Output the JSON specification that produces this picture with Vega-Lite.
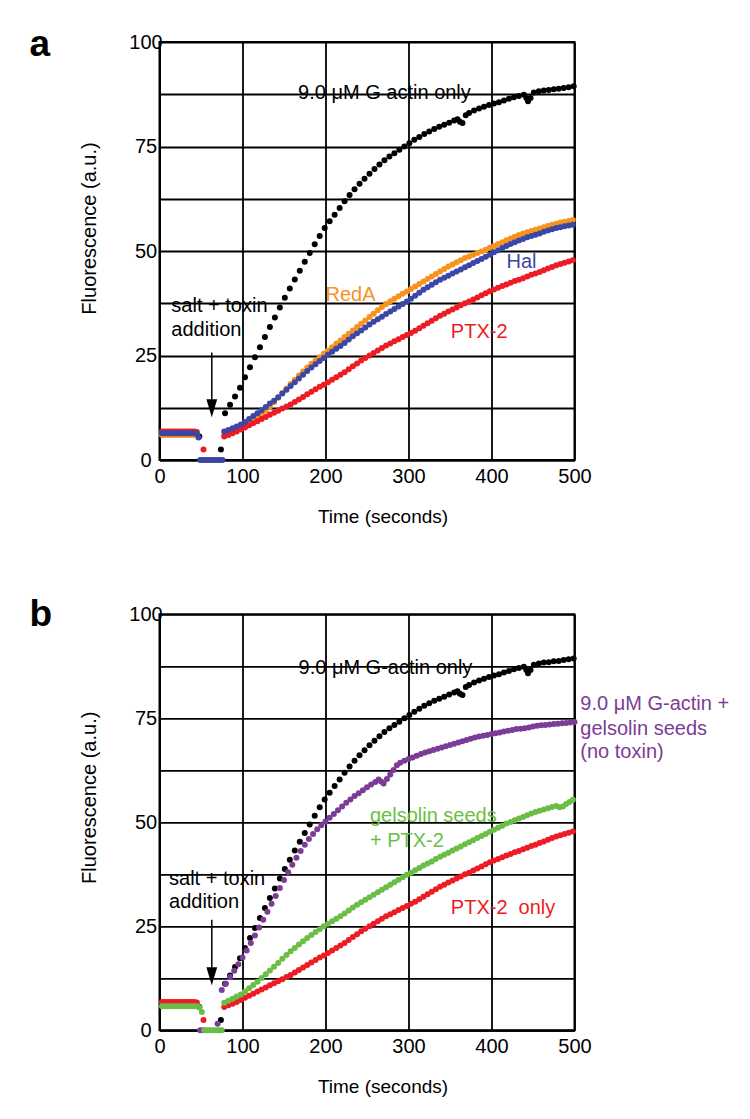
{
"$schema": "https://vega.github.io/schema/vega-lite/v6.json",
"background": "white",
"padding": {"left": 28.5, "top": 25, "right": 5, "bottom": 5},
"spacing": 154.3,
"bounds": "flush",
"config": {
 "font": "Liberation Sans",
 "view": {"stroke": "black", "strokeWidth": 2},
 "axis": {"grid": true, "gridColor": "black", "gridOpacity": 1, "gridWidth": 1.8, "domainColor": "black", "domainWidth": 2, "ticks": false, "labelFont": "Liberation Sans", "labelFontSize": 20, "labelColor": "black", "labelFlush": false, "labelOverlap": false, "titleFont": "Liberation Sans", "titleFontWeight": "normal", "titleColor": "black"},
 "axisX": {"labelPadding": 6, "titleFontSize": 19, "titleX": 223, "titleY": 62, "titleBaseline": "alphabetic", "titleAlign": "center"},
 "axisY": {"labelAlign": "center", "labelPadding": 14, "titleFontSize": 20, "titleX": -64, "titleBaseline": "alphabetic", "titleAlign": "center"},
 "title": {"anchor": "start", "frame": "group", "dx": -130, "baseline": "alphabetic", "fontSize": 37, "fontWeight": "bold", "color": "black", "font": "Liberation Sans"}
},
"datasets": {
"pts": [
{"s":"k","t":3,"f":6.2},{"s":"k","t":7,"f":6.2},{"s":"k","t":11,"f":6.2},{"s":"k","t":15,"f":6.2},{"s":"k","t":19,"f":6.2},{"s":"k","t":23,"f":6.2},{"s":"k","t":27,"f":6.2},{"s":"k","t":31,"f":6.2},{"s":"k","t":35,"f":6.2},{"s":"k","t":39,"f":6.2},{"s":"k","t":43,"f":6.2},{"s":"k","t":48,"f":5.6},
{"s":"k","t":74,"f":2.5},{"s":"k","t":79,"f":11.2},{"s":"k","t":85,"f":13.2},{"s":"k","t":91,"f":15.2},{"s":"k","t":97,"f":17.3},{"s":"k","t":103,"f":19.8},{"s":"k","t":109,"f":22.2},{"s":"k","t":115,"f":24.6},{"s":"k","t":121,"f":27.0},{"s":"k","t":127,"f":29.4},{"s":"k","t":133,"f":31.8},{"s":"k","t":139,"f":34.1},{"s":"k","t":145,"f":36.5},{"s":"k","t":151,"f":38.8},{"s":"k","t":157,"f":41.0},{"s":"k","t":163,"f":43.2},{"s":"k","t":169,"f":45.3},{"s":"k","t":175,"f":47.4},{"s":"k","t":181,"f":49.5},{"s":"k","t":187,"f":51.6},{"s":"k","t":193,"f":53.6},{"s":"k","t":199,"f":55.5},{"s":"k","t":205,"f":57.1},{"s":"k","t":211,"f":58.7},{"s":"k","t":217,"f":60.3},{"s":"k","t":223,"f":61.9},{"s":"k","t":229,"f":63.4},{"s":"k","t":235,"f":64.8},{"s":"k","t":241,"f":66.1},{"s":"k","t":247,"f":67.3},{"s":"k","t":253,"f":68.5},{"s":"k","t":259,"f":69.6},{"s":"k","t":265,"f":70.7},{"s":"k","t":271,"f":71.7},{"s":"k","t":277,"f":72.6},{"s":"k","t":283,"f":73.4},{"s":"k","t":289,"f":74.2},{"s":"k","t":295,"f":75.0},{"s":"k","t":301,"f":75.8},{"s":"k","t":307,"f":76.6},{"s":"k","t":313,"f":77.3},{"s":"k","t":319,"f":78.0},{"s":"k","t":325,"f":78.6},{"s":"k","t":331,"f":79.2},{"s":"k","t":337,"f":79.7},{"s":"k","t":343,"f":80.2},{"s":"k","t":349,"f":80.7},{"s":"k","t":355,"f":81.2},{"s":"k","t":359,"f":81.5},{"s":"k","t":362,"f":80.9},{"s":"k","t":365,"f":80.6},{"s":"k","t":369,"f":82.5},{"s":"k","t":373,"f":83.0},{"s":"k","t":379,"f":83.6},{"s":"k","t":385,"f":84.1},{"s":"k","t":391,"f":84.5},{"s":"k","t":397,"f":84.9},{"s":"k","t":403,"f":85.3},{"s":"k","t":409,"f":85.6},{"s":"k","t":415,"f":86.0},{"s":"k","t":421,"f":86.4},{"s":"k","t":427,"f":86.8},{"s":"k","t":433,"f":87.1},{"s":"k","t":439,"f":87.4},{"s":"k","t":442,"f":86.6},{"s":"k","t":444,"f":85.8},{"s":"k","t":447,"f":86.6},{"s":"k","t":451,"f":87.9},{"s":"k","t":457,"f":88.2},{"s":"k","t":463,"f":88.4},{"s":"k","t":469,"f":88.5},{"s":"k","t":475,"f":88.7},{"s":"k","t":481,"f":88.8},{"s":"k","t":487,"f":89.0},{"s":"k","t":493,"f":89.2},{"s":"k","t":499,"f":89.4},
{"s":"o","t":3,"f":6.0},{"s":"o","t":6,"f":6.0},{"s":"o","t":9,"f":6.0},{"s":"o","t":12,"f":6.0},{"s":"o","t":15,"f":6.0},{"s":"o","t":18,"f":6.0},{"s":"o","t":21,"f":6.0},{"s":"o","t":24,"f":6.0},{"s":"o","t":27,"f":6.0},{"s":"o","t":30,"f":6.0},{"s":"o","t":33,"f":6.0},{"s":"o","t":36,"f":6.0},{"s":"o","t":39,"f":6.0},{"s":"o","t":42,"f":6.0},{"s":"o","t":45,"f":6.0},
{"s":"o","t":78,"f":6.0},{"s":"o","t":83,"f":6.4},{"s":"o","t":88,"f":6.8},{"s":"o","t":93,"f":7.2},{"s":"o","t":98,"f":7.7},{"s":"o","t":103,"f":8.2},{"s":"o","t":108,"f":8.8},{"s":"o","t":113,"f":9.4},{"s":"o","t":118,"f":10.1},{"s":"o","t":123,"f":10.9},{"s":"o","t":128,"f":11.8},{"s":"o","t":133,"f":12.8},{"s":"o","t":138,"f":13.8},{"s":"o","t":143,"f":14.9},{"s":"o","t":148,"f":16.0},{"s":"o","t":153,"f":17.1},{"s":"o","t":158,"f":18.2},{"s":"o","t":163,"f":19.2},{"s":"o","t":168,"f":20.2},{"s":"o","t":173,"f":21.2},{"s":"o","t":178,"f":22.1},{"s":"o","t":183,"f":23.0},{"s":"o","t":188,"f":23.8},{"s":"o","t":193,"f":24.6},{"s":"o","t":198,"f":25.4},{"s":"o","t":203,"f":26.2},{"s":"o","t":208,"f":27.0},{"s":"o","t":213,"f":27.8},{"s":"o","t":218,"f":28.6},{"s":"o","t":223,"f":29.4},{"s":"o","t":228,"f":30.2},{"s":"o","t":233,"f":31.0},{"s":"o","t":238,"f":31.8},{"s":"o","t":243,"f":32.6},{"s":"o","t":248,"f":33.4},{"s":"o","t":253,"f":34.2},{"s":"o","t":258,"f":35.0},{"s":"o","t":263,"f":35.8},{"s":"o","t":268,"f":36.6},{"s":"o","t":273,"f":37.3},{"s":"o","t":278,"f":38.0},{"s":"o","t":283,"f":38.6},{"s":"o","t":288,"f":39.2},{"s":"o","t":293,"f":39.8},{"s":"o","t":298,"f":40.3},{"s":"o","t":303,"f":40.9},{"s":"o","t":308,"f":41.5},{"s":"o","t":313,"f":42.1},{"s":"o","t":318,"f":42.7},{"s":"o","t":323,"f":43.3},{"s":"o","t":328,"f":43.9},{"s":"o","t":333,"f":44.5},{"s":"o","t":338,"f":45.1},{"s":"o","t":343,"f":45.7},{"s":"o","t":348,"f":46.3},{"s":"o","t":353,"f":46.8},{"s":"o","t":358,"f":47.3},{"s":"o","t":363,"f":47.8},{"s":"o","t":368,"f":48.3},{"s":"o","t":373,"f":48.7},{"s":"o","t":378,"f":49.1},{"s":"o","t":383,"f":49.5},{"s":"o","t":388,"f":49.9},{"s":"o","t":393,"f":50.3},{"s":"o","t":398,"f":50.8},{"s":"o","t":403,"f":51.2},{"s":"o","t":408,"f":51.7},{"s":"o","t":413,"f":52.1},{"s":"o","t":418,"f":52.6},{"s":"o","t":423,"f":53.0},{"s":"o","t":428,"f":53.4},{"s":"o","t":433,"f":53.8},{"s":"o","t":438,"f":54.2},{"s":"o","t":443,"f":54.5},{"s":"o","t":448,"f":54.8},{"s":"o","t":453,"f":55.1},{"s":"o","t":458,"f":55.4},{"s":"o","t":463,"f":55.7},{"s":"o","t":468,"f":56.0},{"s":"o","t":473,"f":56.3},{"s":"o","t":478,"f":56.5},{"s":"o","t":483,"f":56.8},{"s":"o","t":488,"f":57.0},{"s":"o","t":493,"f":57.2},{"s":"o","t":498,"f":57.4},
{"s":"p","t":49,"f":0},{"s":"p","t":52,"f":0},{"s":"p","t":70,"f":1.6},
{"s":"p","t":75,"f":9.7},{"s":"p","t":80,"f":11.2},{"s":"p","t":85,"f":12.8},{"s":"p","t":90,"f":14.3},{"s":"p","t":95,"f":15.9},{"s":"p","t":100,"f":17.5},{"s":"p","t":105,"f":19.2},{"s":"p","t":110,"f":21.0},{"s":"p","t":115,"f":22.8},{"s":"p","t":120,"f":24.7},{"s":"p","t":125,"f":26.6},{"s":"p","t":130,"f":28.5},{"s":"p","t":135,"f":30.4},{"s":"p","t":140,"f":32.3},{"s":"p","t":145,"f":34.2},{"s":"p","t":150,"f":36.1},{"s":"p","t":155,"f":38.0},{"s":"p","t":160,"f":39.8},{"s":"p","t":165,"f":41.5},{"s":"p","t":170,"f":43.1},{"s":"p","t":175,"f":44.6},{"s":"p","t":180,"f":46.0},{"s":"p","t":185,"f":47.2},{"s":"p","t":190,"f":48.3},{"s":"p","t":195,"f":49.3},{"s":"p","t":200,"f":50.2},{"s":"p","t":205,"f":51.1},{"s":"p","t":210,"f":52.0},{"s":"p","t":215,"f":52.9},{"s":"p","t":220,"f":53.8},{"s":"p","t":225,"f":54.7},{"s":"p","t":230,"f":55.5},{"s":"p","t":235,"f":56.3},{"s":"p","t":240,"f":57.0},{"s":"p","t":245,"f":57.7},{"s":"p","t":250,"f":58.4},{"s":"p","t":255,"f":59.1},{"s":"p","t":260,"f":59.7},{"s":"p","t":264,"f":60.3},{"s":"p","t":267,"f":59.8},{"s":"p","t":270,"f":59.3},{"s":"p","t":274,"f":60.4},{"s":"p","t":278,"f":61.5},{"s":"p","t":282,"f":62.6},{"s":"p","t":286,"f":63.7},{"s":"p","t":290,"f":64.3},{"s":"p","t":295,"f":64.8},{"s":"p","t":300,"f":65.2},{"s":"p","t":305,"f":65.6},{"s":"p","t":310,"f":66.0},{"s":"p","t":315,"f":66.4},{"s":"p","t":320,"f":66.8},{"s":"p","t":325,"f":67.1},{"s":"p","t":330,"f":67.4},{"s":"p","t":335,"f":67.7},{"s":"p","t":340,"f":68.0},{"s":"p","t":345,"f":68.3},{"s":"p","t":350,"f":68.6},{"s":"p","t":355,"f":68.9},{"s":"p","t":360,"f":69.2},{"s":"p","t":365,"f":69.5},{"s":"p","t":370,"f":69.8},{"s":"p","t":375,"f":70.1},{"s":"p","t":380,"f":70.4},{"s":"p","t":385,"f":70.6},{"s":"p","t":390,"f":70.8},{"s":"p","t":395,"f":71.0},{"s":"p","t":400,"f":71.2},{"s":"p","t":405,"f":71.4},{"s":"p","t":410,"f":71.6},{"s":"p","t":415,"f":71.8},{"s":"p","t":420,"f":72.0},{"s":"p","t":425,"f":72.2},{"s":"p","t":430,"f":72.4},{"s":"p","t":435,"f":72.5},{"s":"p","t":440,"f":72.6},{"s":"p","t":445,"f":72.8},{"s":"p","t":450,"f":73.0},{"s":"p","t":455,"f":73.2},{"s":"p","t":460,"f":73.3},{"s":"p","t":465,"f":73.4},{"s":"p","t":470,"f":73.5},{"s":"p","t":475,"f":73.6},{"s":"p","t":480,"f":73.7},{"s":"p","t":485,"f":73.8},{"s":"p","t":490,"f":73.9},{"s":"p","t":495,"f":74.0},{"s":"p","t":500,"f":74.1},
{"s":"r","t":3,"f":6.8},{"s":"r","t":6,"f":6.8},{"s":"r","t":9,"f":6.8},{"s":"r","t":12,"f":6.8},{"s":"r","t":15,"f":6.8},{"s":"r","t":18,"f":6.8},{"s":"r","t":21,"f":6.8},{"s":"r","t":24,"f":6.8},{"s":"r","t":27,"f":6.8},{"s":"r","t":30,"f":6.8},{"s":"r","t":33,"f":6.8},{"s":"r","t":36,"f":6.8},{"s":"r","t":39,"f":6.8},{"s":"r","t":42,"f":6.8},{"s":"r","t":45,"f":6.7},{"s":"r","t":53,"f":2.5},
{"s":"r","t":78,"f":5.6},{"s":"r","t":83,"f":6.0},{"s":"r","t":88,"f":6.4},{"s":"r","t":93,"f":6.8},{"s":"r","t":98,"f":7.3},{"s":"r","t":103,"f":7.8},{"s":"r","t":108,"f":8.3},{"s":"r","t":113,"f":8.8},{"s":"r","t":118,"f":9.3},{"s":"r","t":123,"f":9.8},{"s":"r","t":128,"f":10.3},{"s":"r","t":133,"f":10.8},{"s":"r","t":138,"f":11.3},{"s":"r","t":143,"f":11.8},{"s":"r","t":148,"f":12.3},{"s":"r","t":153,"f":12.8},{"s":"r","t":158,"f":13.3},{"s":"r","t":163,"f":13.9},{"s":"r","t":168,"f":14.5},{"s":"r","t":173,"f":15.1},{"s":"r","t":178,"f":15.7},{"s":"r","t":183,"f":16.3},{"s":"r","t":188,"f":16.9},{"s":"r","t":193,"f":17.5},{"s":"r","t":198,"f":18.0},{"s":"r","t":203,"f":18.6},{"s":"r","t":208,"f":19.2},{"s":"r","t":213,"f":19.8},{"s":"r","t":218,"f":20.4},{"s":"r","t":223,"f":21.0},{"s":"r","t":228,"f":21.7},{"s":"r","t":233,"f":22.4},{"s":"r","t":238,"f":23.1},{"s":"r","t":243,"f":23.8},{"s":"r","t":248,"f":24.4},{"s":"r","t":253,"f":25.0},{"s":"r","t":258,"f":25.6},{"s":"r","t":263,"f":26.2},{"s":"r","t":268,"f":26.8},{"s":"r","t":273,"f":27.4},{"s":"r","t":278,"f":27.9},{"s":"r","t":283,"f":28.4},{"s":"r","t":288,"f":28.9},{"s":"r","t":293,"f":29.4},{"s":"r","t":298,"f":29.9},{"s":"r","t":303,"f":30.4},{"s":"r","t":308,"f":30.9},{"s":"r","t":313,"f":31.5},{"s":"r","t":318,"f":32.1},{"s":"r","t":323,"f":32.7},{"s":"r","t":328,"f":33.3},{"s":"r","t":333,"f":33.9},{"s":"r","t":338,"f":34.5},{"s":"r","t":343,"f":35.0},{"s":"r","t":348,"f":35.5},{"s":"r","t":353,"f":36.0},{"s":"r","t":358,"f":36.5},{"s":"r","t":363,"f":37.0},{"s":"r","t":368,"f":37.5},{"s":"r","t":373,"f":37.9},{"s":"r","t":378,"f":38.4},{"s":"r","t":383,"f":38.9},{"s":"r","t":388,"f":39.4},{"s":"r","t":393,"f":39.9},{"s":"r","t":398,"f":40.4},{"s":"r","t":403,"f":40.8},{"s":"r","t":408,"f":41.2},{"s":"r","t":413,"f":41.6},{"s":"r","t":418,"f":42.0},{"s":"r","t":423,"f":42.4},{"s":"r","t":428,"f":42.8},{"s":"r","t":433,"f":43.1},{"s":"r","t":438,"f":43.5},{"s":"r","t":443,"f":43.9},{"s":"r","t":448,"f":44.3},{"s":"r","t":453,"f":44.6},{"s":"r","t":458,"f":45.0},{"s":"r","t":463,"f":45.4},{"s":"r","t":468,"f":45.8},{"s":"r","t":473,"f":46.2},{"s":"r","t":478,"f":46.6},{"s":"r","t":483,"f":46.9},{"s":"r","t":488,"f":47.2},{"s":"r","t":493,"f":47.5},{"s":"r","t":498,"f":47.8},
{"s":"b","t":3,"f":6.4},{"s":"b","t":6,"f":6.4},{"s":"b","t":9,"f":6.4},{"s":"b","t":12,"f":6.4},{"s":"b","t":15,"f":6.4},{"s":"b","t":18,"f":6.4},{"s":"b","t":21,"f":6.4},{"s":"b","t":24,"f":6.4},{"s":"b","t":27,"f":6.4},{"s":"b","t":30,"f":6.4},{"s":"b","t":33,"f":6.4},{"s":"b","t":36,"f":6.4},{"s":"b","t":39,"f":6.4},{"s":"b","t":42,"f":6.4},{"s":"b","t":45,"f":6.3},{"s":"b","t":47,"f":5.4},
{"s":"b","t":49,"f":0},{"s":"b","t":52,"f":0},{"s":"b","t":55,"f":0},{"s":"b","t":58,"f":0},{"s":"b","t":61,"f":0},{"s":"b","t":64,"f":0},{"s":"b","t":67,"f":0},{"s":"b","t":70,"f":0},{"s":"b","t":73,"f":0},{"s":"b","t":76,"f":0},
{"s":"b","t":78,"f":6.8},{"s":"b","t":83,"f":7.2},{"s":"b","t":88,"f":7.6},{"s":"b","t":93,"f":8.0},{"s":"b","t":98,"f":8.5},{"s":"b","t":103,"f":9.1},{"s":"b","t":108,"f":9.8},{"s":"b","t":113,"f":10.5},{"s":"b","t":118,"f":11.2},{"s":"b","t":123,"f":11.9},{"s":"b","t":128,"f":12.7},{"s":"b","t":133,"f":13.5},{"s":"b","t":138,"f":14.2},{"s":"b","t":143,"f":15.0},{"s":"b","t":148,"f":15.9},{"s":"b","t":153,"f":16.8},{"s":"b","t":158,"f":17.7},{"s":"b","t":163,"f":18.6},{"s":"b","t":168,"f":19.5},{"s":"b","t":173,"f":20.4},{"s":"b","t":178,"f":21.3},{"s":"b","t":183,"f":22.1},{"s":"b","t":188,"f":22.9},{"s":"b","t":193,"f":23.7},{"s":"b","t":198,"f":24.4},{"s":"b","t":203,"f":25.2},{"s":"b","t":208,"f":25.9},{"s":"b","t":213,"f":26.6},{"s":"b","t":218,"f":27.3},{"s":"b","t":223,"f":28.0},{"s":"b","t":228,"f":28.8},{"s":"b","t":233,"f":29.6},{"s":"b","t":238,"f":30.3},{"s":"b","t":243,"f":31.0},{"s":"b","t":248,"f":31.7},{"s":"b","t":253,"f":32.4},{"s":"b","t":258,"f":33.1},{"s":"b","t":263,"f":33.7},{"s":"b","t":268,"f":34.3},{"s":"b","t":273,"f":34.9},{"s":"b","t":278,"f":35.5},{"s":"b","t":283,"f":36.1},{"s":"b","t":288,"f":36.7},{"s":"b","t":293,"f":37.3},{"s":"b","t":298,"f":37.9},{"s":"b","t":303,"f":38.6},{"s":"b","t":308,"f":39.3},{"s":"b","t":313,"f":40.0},{"s":"b","t":318,"f":40.7},{"s":"b","t":323,"f":41.3},{"s":"b","t":328,"f":41.9},{"s":"b","t":333,"f":42.5},{"s":"b","t":338,"f":43.1},{"s":"b","t":343,"f":43.6},{"s":"b","t":348,"f":44.1},{"s":"b","t":353,"f":44.6},{"s":"b","t":358,"f":45.1},{"s":"b","t":363,"f":45.6},{"s":"b","t":368,"f":46.1},{"s":"b","t":373,"f":46.6},{"s":"b","t":378,"f":47.1},{"s":"b","t":383,"f":47.6},{"s":"b","t":388,"f":48.1},{"s":"b","t":393,"f":48.6},{"s":"b","t":398,"f":49.1},{"s":"b","t":403,"f":49.7},{"s":"b","t":408,"f":50.2},{"s":"b","t":413,"f":50.7},{"s":"b","t":418,"f":51.2},{"s":"b","t":423,"f":51.7},{"s":"b","t":428,"f":52.1},{"s":"b","t":433,"f":52.5},{"s":"b","t":438,"f":52.9},{"s":"b","t":443,"f":53.3},{"s":"b","t":448,"f":53.6},{"s":"b","t":453,"f":53.9},{"s":"b","t":458,"f":54.2},{"s":"b","t":463,"f":54.6},{"s":"b","t":468,"f":54.9},{"s":"b","t":473,"f":55.2},{"s":"b","t":478,"f":55.5},{"s":"b","t":483,"f":55.7},{"s":"b","t":488,"f":55.9},{"s":"b","t":493,"f":56.1},{"s":"b","t":498,"f":56.3},
{"s":"g","t":3,"f":5.8},{"s":"g","t":6,"f":5.8},{"s":"g","t":9,"f":5.8},{"s":"g","t":12,"f":5.8},{"s":"g","t":15,"f":5.8},{"s":"g","t":18,"f":5.8},{"s":"g","t":21,"f":5.8},{"s":"g","t":24,"f":5.8},{"s":"g","t":27,"f":5.8},{"s":"g","t":30,"f":5.8},{"s":"g","t":33,"f":5.8},{"s":"g","t":36,"f":5.8},{"s":"g","t":39,"f":5.8},{"s":"g","t":42,"f":5.8},{"s":"g","t":45,"f":5.8},{"s":"g","t":48,"f":5.5},{"s":"g","t":51,"f":4.4},
{"s":"g","t":54,"f":0},{"s":"g","t":57,"f":0},{"s":"g","t":60,"f":0},{"s":"g","t":63,"f":0},{"s":"g","t":66,"f":0},{"s":"g","t":69,"f":0},{"s":"g","t":72,"f":0},{"s":"g","t":75,"f":0},
{"s":"g","t":78,"f":6.6},{"s":"g","t":83,"f":7.1},{"s":"g","t":88,"f":7.6},{"s":"g","t":93,"f":8.1},{"s":"g","t":98,"f":8.6},{"s":"g","t":103,"f":9.3},{"s":"g","t":108,"f":10.1},{"s":"g","t":113,"f":10.9},{"s":"g","t":118,"f":11.7},{"s":"g","t":123,"f":12.6},{"s":"g","t":128,"f":13.5},{"s":"g","t":133,"f":14.4},{"s":"g","t":138,"f":15.3},{"s":"g","t":143,"f":16.2},{"s":"g","t":148,"f":17.2},{"s":"g","t":153,"f":18.1},{"s":"g","t":158,"f":19.0},{"s":"g","t":163,"f":19.8},{"s":"g","t":168,"f":20.6},{"s":"g","t":173,"f":21.4},{"s":"g","t":178,"f":22.2},{"s":"g","t":183,"f":22.9},{"s":"g","t":188,"f":23.6},{"s":"g","t":193,"f":24.3},{"s":"g","t":198,"f":25.0},{"s":"g","t":203,"f":25.6},{"s":"g","t":208,"f":26.2},{"s":"g","t":213,"f":26.8},{"s":"g","t":218,"f":27.4},{"s":"g","t":223,"f":28.1},{"s":"g","t":228,"f":28.8},{"s":"g","t":233,"f":29.5},{"s":"g","t":238,"f":30.2},{"s":"g","t":243,"f":30.8},{"s":"g","t":248,"f":31.4},{"s":"g","t":253,"f":32.0},{"s":"g","t":258,"f":32.6},{"s":"g","t":263,"f":33.2},{"s":"g","t":268,"f":33.8},{"s":"g","t":273,"f":34.4},{"s":"g","t":278,"f":35.0},{"s":"g","t":283,"f":35.6},{"s":"g","t":288,"f":36.2},{"s":"g","t":293,"f":36.8},{"s":"g","t":298,"f":37.4},{"s":"g","t":303,"f":37.9},{"s":"g","t":308,"f":38.5},{"s":"g","t":313,"f":39.0},{"s":"g","t":318,"f":39.6},{"s":"g","t":323,"f":40.1},{"s":"g","t":328,"f":40.6},{"s":"g","t":333,"f":41.2},{"s":"g","t":338,"f":41.7},{"s":"g","t":343,"f":42.2},{"s":"g","t":348,"f":42.7},{"s":"g","t":353,"f":43.2},{"s":"g","t":358,"f":43.7},{"s":"g","t":363,"f":44.2},{"s":"g","t":368,"f":44.7},{"s":"g","t":373,"f":45.2},{"s":"g","t":378,"f":45.7},{"s":"g","t":383,"f":46.2},{"s":"g","t":388,"f":46.7},{"s":"g","t":393,"f":47.2},{"s":"g","t":398,"f":47.7},{"s":"g","t":403,"f":48.2},{"s":"g","t":408,"f":48.7},{"s":"g","t":413,"f":49.2},{"s":"g","t":418,"f":49.7},{"s":"g","t":423,"f":50.1},{"s":"g","t":428,"f":50.5},{"s":"g","t":433,"f":50.9},{"s":"g","t":438,"f":51.3},{"s":"g","t":443,"f":51.7},{"s":"g","t":448,"f":52.1},{"s":"g","t":453,"f":52.5},{"s":"g","t":458,"f":52.8},{"s":"g","t":463,"f":53.1},{"s":"g","t":468,"f":53.4},{"s":"g","t":473,"f":53.7},{"s":"g","t":478,"f":53.9},{"s":"g","t":482,"f":53.6},{"s":"g","t":486,"f":53.8},{"s":"g","t":490,"f":54.4},{"s":"g","t":494,"f":54.9},{"s":"g","t":498,"f":55.4}
],
"lbl": [
{"panel":"a","s":"k","t":167,"f":87.7,"txt":"9.0 μM G actin only"},
{"panel":"a","s":"o","t":200,"f":39.5,"txt":"RedA"},
{"panel":"a","s":"b","t":418,"f":47.4,"txt":"Hal"},
{"panel":"a","s":"r","t":351,"f":30.6,"txt":"PTX-2"},
{"panel":"a","s":"k","t":14.3,"f":36.9,"txt":"salt + toxin"},
{"panel":"a","s":"k","t":14.3,"f":31.0,"txt":"addition"},
{"panel":"b","s":"k","t":167.5,"f":87.0,"txt":"9.0 μM G-actin only"},
{"panel":"b","s":"p","t":507,"f":78.4,"txt":"9.0 μM G-actin +"},
{"panel":"b","s":"p","t":507,"f":72.4,"txt":"gelsolin seeds"},
{"panel":"b","s":"p","t":507,"f":66.8,"txt":"(no toxin)"},
{"panel":"b","s":"g","t":253.6,"f":51.6,"txt":"gelsolin seeds"},
{"panel":"b","s":"g","t":253.6,"f":45.6,"txt":"+ PTX-2"},
{"panel":"b","s":"r","t":351,"f":29.4,"txt":"PTX-2\u00a0\u00a0only"},
{"panel":"b","s":"k","t":11.5,"f":36.4,"txt":"salt + toxin"},
{"panel":"b","s":"k","t":11.5,"f":30.8,"txt":"addition"}
],
"arr": [
{"panel":"a","t":63,"top":25.7,"bot":13,"head":12.4},
{"panel":"b","t":63,"top":26.6,"bot":14,"head":13.0}
]
},
"vconcat": [
{
 "title": {"text": "a", "offset": -32},
 "width": 415, "height": 418,
 "layer": [
  {"data": {"name": "pts"}, "transform": [{"filter": {"field": "s", "oneOf": ["k","o","r","b"]}}],
   "mark": {"type": "point", "filled": true, "size": 36, "opacity": 1},
   "encoding": {
    "x": {"field": "t", "type": "quantitative", "scale": {"domain": [0,500], "nice": false}, "axis": {"values": [0,100,200,300,400,500], "title": "Time (seconds)"}},
    "y": {"field": "f", "type": "quantitative", "scale": {"domain": [0,100], "nice": false}, "axis": {"values": [0,12.5,25,37.5,50,62.5,75,87.5,100], "labelExpr": "datum.value % 25 === 0 ? format(datum.value, 'd') : ''", "title": "Fluorescence (a.u.)", "titleY": 186}},
    "color": {"field": "s", "type": "nominal", "scale": {"domain": ["k","o","b","r","p","g"], "range": ["#000000","#F7931E","#3B46A5","#ED1C24","#7B3C96","#6BBE45"]}, "legend": null}
   }},
  {"data": {"name": "arr"}, "transform": [{"filter": "datum.panel === 'a'"}],
   "mark": {"type": "rule", "strokeWidth": 1.5, "color": "black"},
   "encoding": {"x": {"field": "t", "type": "quantitative"}, "y": {"field": "top", "type": "quantitative"}, "y2": {"field": "bot"}}},
  {"data": {"name": "arr"}, "transform": [{"filter": "datum.panel === 'a'"}],
   "mark": {"type": "point", "shape": "M-0.6,-1L0.6,-1L0,1Z", "filled": true, "size": 324, "color": "black", "opacity": 1},
   "encoding": {"x": {"field": "t", "type": "quantitative"}, "y": {"field": "head", "type": "quantitative"}}},
  {"data": {"name": "lbl"}, "transform": [{"filter": "datum.panel === 'a'"}],
   "mark": {"type": "text", "align": "left", "baseline": "middle", "fontSize": 20, "font": "Liberation Sans"},
   "encoding": {"x": {"field": "t", "type": "quantitative"}, "y": {"field": "f", "type": "quantitative"}, "text": {"field": "txt"}, "color": {"field": "s", "type": "nominal", "legend": null}}}
 ]
},
{
 "title": {"text": "b", "offset": -30},
 "width": 415, "height": 416,
 "layer": [
  {"data": {"name": "pts"}, "transform": [{"filter": {"field": "s", "oneOf": ["k","p","r","g"]}}],
   "mark": {"type": "point", "filled": true, "size": 36, "opacity": 1},
   "encoding": {
    "x": {"field": "t", "type": "quantitative", "scale": {"domain": [0,500], "nice": false}, "axis": {"values": [0,100,200,300,400,500], "title": "Time (seconds)"}},
    "y": {"field": "f", "type": "quantitative", "scale": {"domain": [0,100], "nice": false}, "axis": {"values": [0,12.5,25,37.5,50,62.5,75,87.5,100], "labelExpr": "datum.value % 25 === 0 ? format(datum.value, 'd') : ''", "title": "Fluorescence (a.u.)", "titleY": 183}},
    "color": {"field": "s", "type": "nominal", "scale": {"domain": ["k","o","b","r","p","g"], "range": ["#000000","#F7931E","#3B46A5","#ED1C24","#7B3C96","#6BBE45"]}, "legend": null}
   }},
  {"data": {"name": "arr"}, "transform": [{"filter": "datum.panel === 'b'"}],
   "mark": {"type": "rule", "strokeWidth": 1.5, "color": "black"},
   "encoding": {"x": {"field": "t", "type": "quantitative"}, "y": {"field": "top", "type": "quantitative"}, "y2": {"field": "bot"}}},
  {"data": {"name": "arr"}, "transform": [{"filter": "datum.panel === 'b'"}],
   "mark": {"type": "point", "shape": "M-0.6,-1L0.6,-1L0,1Z", "filled": true, "size": 324, "color": "black", "opacity": 1},
   "encoding": {"x": {"field": "t", "type": "quantitative"}, "y": {"field": "head", "type": "quantitative"}}},
  {"data": {"name": "lbl"}, "transform": [{"filter": "datum.panel === 'b'"}],
   "mark": {"type": "text", "align": "left", "baseline": "middle", "fontSize": 20, "font": "Liberation Sans"},
   "encoding": {"x": {"field": "t", "type": "quantitative"}, "y": {"field": "f", "type": "quantitative"}, "text": {"field": "txt"}, "color": {"field": "s", "type": "nominal", "legend": null}}}
 ]
}
]
}
